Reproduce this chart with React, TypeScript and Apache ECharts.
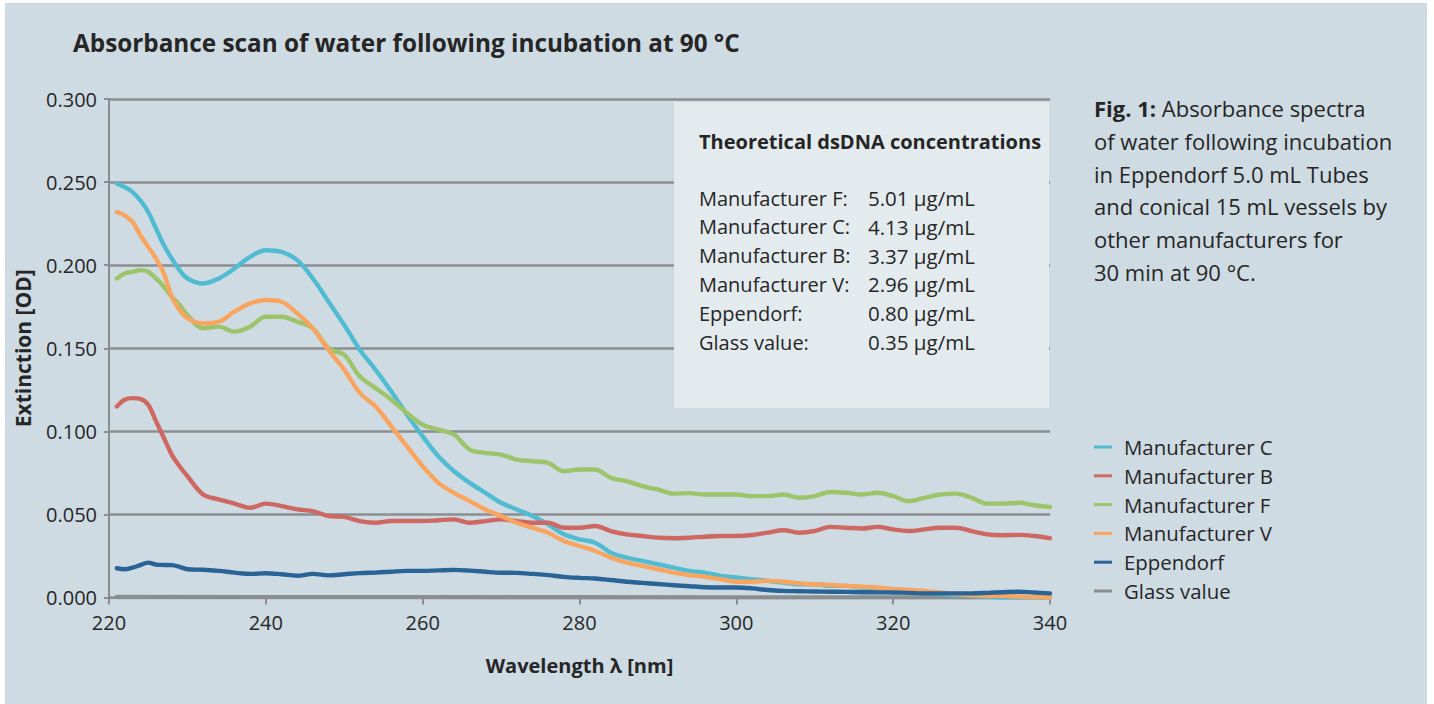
import React, { useEffect, useRef } from "react";
import * as echarts from "echarts";

const wavelengths = [221, 222, 223, 224, 225, 226, 227, 228, 229, 230, 232, 234, 236, 238, 240, 242, 244, 246, 248, 250, 252, 254, 256, 258, 260, 262, 264, 266, 268, 270, 272, 274, 276, 278, 280, 282, 284, 286, 288, 290, 292, 294, 296, 298, 300, 302, 304, 306, 308, 310, 312, 314, 316, 318, 320, 322, 324, 326, 328, 330, 332, 334, 336, 338, 340];

const manufacturerC = [0.249, 0.247, 0.244, 0.239, 0.232, 0.222, 0.212, 0.204, 0.197, 0.192, 0.189, 0.192, 0.198, 0.205, 0.209, 0.208, 0.203, 0.192, 0.178, 0.164, 0.149, 0.137, 0.124, 0.110, 0.097, 0.085, 0.076, 0.069, 0.063, 0.057, 0.053, 0.049, 0.044, 0.038, 0.035, 0.033, 0.027, 0.024, 0.022, 0.020, 0.018, 0.016, 0.015, 0.013, 0.012, 0.011, 0.010, 0.009, 0.008, 0.008, 0.007, 0.007, 0.006, 0.0055, 0.005, 0.004, 0.003, 0.002, 0.0015, 0.001, 0.0005, 0.0, 0.0, 0.0, 0.0];

const manufacturerB = [0.115, 0.119, 0.120, 0.1195, 0.116, 0.106, 0.096, 0.086, 0.079, 0.073, 0.062, 0.059, 0.0565, 0.054, 0.0565, 0.055, 0.053, 0.052, 0.049, 0.0485, 0.046, 0.045, 0.046, 0.046, 0.046, 0.0465, 0.047, 0.045, 0.046, 0.047, 0.046, 0.045, 0.045, 0.042, 0.042, 0.043, 0.040, 0.038, 0.037, 0.036, 0.0357, 0.036, 0.0366, 0.037, 0.037, 0.0376, 0.039, 0.0405, 0.039, 0.040, 0.0425, 0.042, 0.0415, 0.0425, 0.041, 0.040, 0.041, 0.042, 0.042, 0.040, 0.038, 0.0375, 0.0377, 0.037, 0.0357];

const manufacturerF = [0.192, 0.195, 0.196, 0.197, 0.196, 0.192, 0.187, 0.181, 0.176, 0.170, 0.162, 0.163, 0.160, 0.163, 0.169, 0.169, 0.166, 0.162, 0.150, 0.146, 0.133, 0.126, 0.119, 0.111, 0.104, 0.101, 0.098, 0.089, 0.087, 0.086, 0.083, 0.082, 0.081, 0.076, 0.077, 0.077, 0.072, 0.070, 0.067, 0.065, 0.0625, 0.0628, 0.062, 0.062, 0.062, 0.061, 0.061, 0.062, 0.060, 0.061, 0.0635, 0.063, 0.062, 0.063, 0.061, 0.058, 0.060, 0.062, 0.0625, 0.060, 0.0565, 0.0565, 0.057, 0.0555, 0.0545];

const manufacturerV = [0.232, 0.230, 0.226, 0.218, 0.211, 0.204, 0.195, 0.181, 0.173, 0.168, 0.165, 0.166, 0.172, 0.177, 0.179, 0.178, 0.171, 0.162, 0.149, 0.137, 0.123, 0.115, 0.103, 0.091, 0.079, 0.069, 0.063, 0.058, 0.053, 0.049, 0.045, 0.042, 0.039, 0.034, 0.031, 0.028, 0.024, 0.021, 0.019, 0.017, 0.015, 0.0135, 0.0125, 0.011, 0.0095, 0.0095, 0.010, 0.0095, 0.0085, 0.008, 0.0075, 0.007, 0.0065, 0.006, 0.005, 0.0045, 0.004, 0.003, 0.002, 0.0015, 0.001, 0.001, 0.0005, 0.0002, 0.0];

const eppendorf = [0.0176, 0.017, 0.018, 0.0195, 0.021, 0.0198, 0.0196, 0.0195, 0.0185, 0.017, 0.0167, 0.016, 0.015, 0.0142, 0.0146, 0.014, 0.0131, 0.0142, 0.0133, 0.014, 0.0147, 0.015, 0.0155, 0.016, 0.016, 0.0163, 0.0166, 0.0162, 0.0155, 0.0149, 0.0148, 0.0142, 0.0135, 0.0124, 0.0118, 0.0114, 0.0105, 0.0095, 0.0088, 0.0081, 0.0074, 0.0068, 0.0062, 0.006, 0.006, 0.0055, 0.0045, 0.004, 0.0038, 0.0036, 0.0035, 0.0034, 0.0032, 0.0031, 0.003, 0.0028, 0.0025, 0.0025, 0.0025, 0.0025, 0.0028, 0.0032, 0.0035, 0.003, 0.0025];

const glassWavelengths = [221, 260, 300, 340];
const glassValue = [0.0003, 0.0002, 0.0001, 0.0001];

const seriesNames = ["Manufacturer C", "Manufacturer B", "Manufacturer F", "Manufacturer V", "Eppendorf", "Glass value"];
const seriesColors = ["#50bbd1", "#cd6862", "#9dc46a", "#f9a45f", "#2a6497", "#8b8e91"];

const boxTitle = "Theoretical dsDNA concentrations";
const boxLabels = ["Manufacturer F:", "Manufacturer C:", "Manufacturer B:", "Manufacturer V:", "Eppendorf:", "Glass value:"];
const boxValues = ["5.01 µg/mL", "4.13 µg/mL", "3.37 µg/mL", "2.96 µg/mL", "0.80 µg/mL", "0.35 µg/mL"];

const captionLines = ["{b|Fig. 1:} Absorbance spectra", "of water following incubation", "in Eppendorf 5.0 mL Tubes", "and conical 15 mL vessels by", "other manufacturers for", "30 min at 90 °C."];

const FONT = "'Open Sans', 'Noto Sans', sans-serif";
const TEXT = "#262626";
const GRID = "#8b8e90";

export default function App() {
  const ref = useRef<HTMLDivElement>(null);
  useEffect(() => {
    document.body.style.margin = "0";
    const chart = echarts.init(ref.current!, null, { renderer: "svg" });
    const pair = (vals: number[]) => wavelengths.map((w, i) => [w, vals[i]]);
    const lineData = [
      pair(manufacturerC),
      pair(manufacturerB),
      pair(manufacturerF),
      pair(manufacturerV),
      pair(eppendorf),
      glassWavelengths.map((w, i) => [w, glassValue[i]]),
    ];
    const zOrder = [2, 3, 3, 4, 5, 1];
    const boxX = 674, boxY = 102;
    const graphics: any[] = [
      { type: "rect", left: 5, top: 3, z: -10, silent: true, shape: { width: 1422, height: 701 }, style: { fill: "#cfdbe3" } },
      { type: "rect", x: boxX, y: boxY, z: 1, silent: true, shape: { width: 375, height: 306 }, style: { fill: "#e4ebef" } },
      { type: "text", x: 699, y: 141, z: 2, style: { text: boxTitle, font: `bold 20px ${FONT}`, fill: TEXT, textVerticalAlign: "middle" } },
    ];
    boxLabels.forEach((l, i) => {
      graphics.push({ type: "text", x: 699, y: 198 + i * 28.8, z: 2, style: { text: l, font: `20px ${FONT}`, fill: TEXT, textVerticalAlign: "middle" } });
      graphics.push({ type: "text", x: 868, y: 198 + i * 28.8, z: 2, style: { text: boxValues[i], font: `20.5px ${FONT}`, fill: TEXT, textVerticalAlign: "middle" } });
    });
    graphics.push({
      type: "text", x: 1094, y: 91.5, z: 2,
      style: {
        text: captionLines.join("\n"),
        fontFamily: FONT, fontSize: 22, lineHeight: 32.8, fill: TEXT,
        rich: { b: { fontFamily: FONT, fontSize: 22, fontWeight: "bold", lineHeight: 32.8, fill: TEXT } },
      },
    });

    chart.setOption({
      animation: false,
      backgroundColor: "#ffffff",
      textStyle: { fontFamily: FONT },
      title: {
        text: "Absorbance scan of water following incubation at 90 °C",
        left: 73, top: 30, padding: 0,
        textStyle: { fontFamily: FONT, fontSize: 24.3, fontWeight: "bold", color: TEXT },
      },
      legend: {
        orient: "vertical", left: 1094, top: 437, padding: 0,
        icon: "rect", itemWidth: 18, itemHeight: 3, itemGap: 8.8,
        data: seriesNames,
        textStyle: { fontFamily: FONT, fontSize: 20.4, color: TEXT, lineHeight: 20, padding: [0, 0, 0, 7] },
      },
      grid: { left: 109, right: 384, top: 99, bottom: 106.5, containLabel: false },
      xAxis: {
        type: "value", min: 220, max: 340, interval: 20,
        name: "Wavelength λ [nm]", nameLocation: "middle", nameGap: 58,
        nameTextStyle: { fontFamily: FONT, fontSize: 20, fontWeight: "bold", color: TEXT },
        axisLine: { show: true, lineStyle: { color: GRID, width: 2 } },
        axisTick: { show: true, length: 7, lineStyle: { color: GRID, width: 2 } },
        axisLabel: { fontFamily: FONT, fontSize: 20, color: TEXT, margin: 15 },
        splitLine: { show: false },
      },
      yAxis: {
        type: "value", min: 0, max: 0.3, interval: 0.05,
        name: "Extinction [OD]", nameLocation: "middle", nameGap: 76,
        nameTextStyle: { fontFamily: FONT, fontSize: 21, fontWeight: "bold", color: TEXT },
        axisLine: { show: true, lineStyle: { color: GRID, width: 2 } },
        axisTick: { show: true, length: 5, lineStyle: { color: GRID, width: 2 } },
        axisLabel: { fontFamily: FONT, fontSize: 20, color: TEXT, margin: 12, formatter: (v: number) => v.toFixed(3) },
        splitLine: { show: true, lineStyle: { color: GRID, width: 2.5 } },
      },
      series: seriesNames.map((name, i) => ({
        name, type: "line", data: lineData[i], smooth: 0.35, showSymbol: false, symbol: "none",
        z: zOrder[i], color: seriesColors[i],
        lineStyle: { width: 4.4, color: seriesColors[i], cap: "round", join: "round" },
      })),
      graphic: graphics,
    });
    return () => chart.dispose();
  }, []);
  return <div ref={ref} style={{ width: 1434, height: 704 }} />;
}
